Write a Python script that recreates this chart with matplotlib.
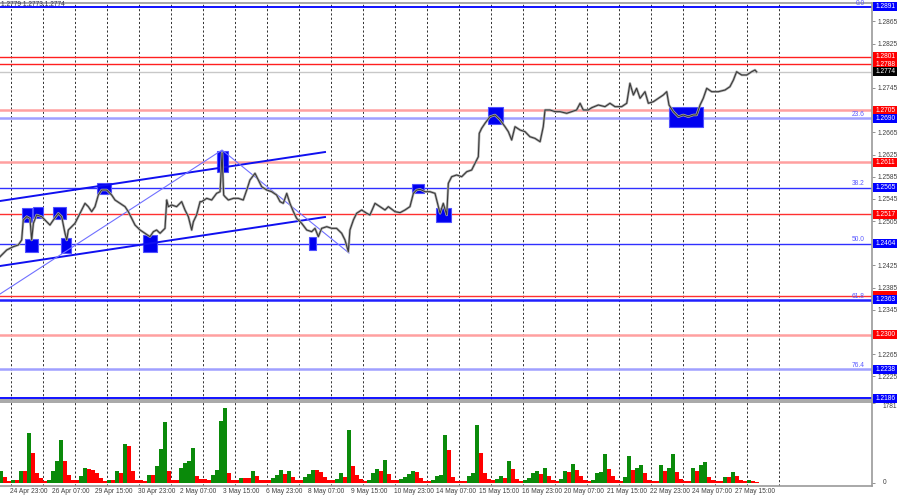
import matplotlib
matplotlib.use('Agg')
import matplotlib.pyplot as plt
from matplotlib.patches import Rectangle
from matplotlib.transforms import blended_transform_factory as blend

plt.rcParams['font.family'] = ['Liberation Sans', 'DejaVu Sans']

# ---------------- data ----------------
# time axis in trading hours, 0 = 25 Apr 00:00
price_hours = [
    -8.25, -3.2, 1.7, 5.5, 8.0, 9.2, 11.8, 14.2, 15.5, 16.8,
    19.2, 23.0, 26.8, 29.2, 31.8, 35.5, 38.0, 40.5, 41.8, 43.0,
    45.5, 48.0, 50.5, 53.0, 55.5, 58.0, 60.5, 63.0, 65.5, 68.0,
    71.8, 75.5, 78.0, 81.8, 85.5, 88.0, 90.5, 93.0, 96.8, 100.5,
    104.2, 106.8, 109.2, 111.8, 115.5, 116.8, 118.0, 120.5, 124.2, 128.0,
    130.5, 133.0, 135.5, 136.8, 139.2, 141.8,
    143.0, 146.8, 150.5, 154.2, 156.8, 158.3, 159.5, 160.5, 163.0, 166.8,
    170.5, 174.2, 176.8, 179.2, 183.0, 185.5, 188.0, 191.8, 195.5, 199.2,
    201.8, 204.2, 206.8, 209.2, 211.8, 214.2, 218.0, 221.8, 225.5, 228.0,
    230.5, 233.0, 236.8, 240.5, 244.2, 248.0, 250.5, 253.0, 254.2, 256.8,
    259.2, 263.0, 266.8, 269.2, 273.0, 276.8, 280.5, 283.0,
    288.0, 291.8, 295.5, 299.2, 301.8, 304.2, 306.8, 310.5, 314.2, 318.0,
    321.8, 324.2, 326.8, 328.0, 330.5, 334.2, 338.0, 341.8, 345.5, 348.0,
    350.5, 351.2, 353.0, 355.5, 359.2, 363.0, 366.8, 370.5, 373.0, 375.5,
    378.0, 381.8, 385.5, 389.2, 393.0, 396.8, 399.2, 400.5, 404.2, 408.0,
    411.8, 416.8, 420.5, 424.2, 426.8, 429.2, 433.0,
    435.5, 440.5, 445.5, 449.2, 453.0, 458.0, 461.8, 464.2, 466.8, 469.2,
    471.8, 475.5, 478.0, 481.8, 485.5, 489.2, 491.8, 493.5, 496.8, 500.5,
    504.2, 508.0, 511.8, 514.2, 516.8, 519.2, 521.8, 525.5, 530.5, 535.5,
    539.2, 541.8, 544.2, 548.0, 551.8, 555.5, 558.0, 559.2,
]
price_close = [
    1.24408, 1.24529, 1.24588, 1.24619, 1.24709, 1.25070, 1.25130, 1.25100, 1.24709, 1.25010,
    1.25160, 1.25130, 1.25039, 1.24979, 1.25070, 1.25190, 1.25130, 1.24830, 1.24709, 1.24889,
    1.24949, 1.25010, 1.25130, 1.25250, 1.25370, 1.25310, 1.25220, 1.25310, 1.25520, 1.25610,
    1.25610, 1.25520, 1.25430, 1.25370, 1.25310, 1.25220, 1.25100, 1.24979, 1.24889, 1.24830,
    1.24769, 1.24859, 1.24889, 1.24830, 1.24919, 1.25430, 1.25310, 1.25340, 1.25310, 1.25400,
    1.25250, 1.25130, 1.24889, 1.25039, 1.25160, 1.25400,
    1.25400, 1.25460, 1.25430, 1.25550, 1.25580, 1.26280, 1.25520, 1.25490, 1.25430, 1.25460,
    1.25460, 1.25430, 1.25610, 1.25790, 1.25911, 1.25790, 1.25670, 1.25610, 1.25580, 1.25520,
    1.25400, 1.25370, 1.25550, 1.25370, 1.25220, 1.25100, 1.25010, 1.24889, 1.24859, 1.24919,
    1.24769, 1.24919, 1.24949, 1.24919, 1.24919, 1.24830, 1.24709, 1.24498, 1.24889, 1.25070,
    1.25190, 1.25250, 1.25190, 1.25160, 1.25370, 1.25310, 1.25250, 1.25310,
    1.25220, 1.25202, 1.25250, 1.25310, 1.25550, 1.25610, 1.25622, 1.25580, 1.25580, 1.25550,
    1.25190, 1.25370, 1.25160, 1.25731, 1.25850, 1.25881, 1.25850, 1.25940, 1.25971, 1.26091,
    1.26211, 1.26632, 1.26723, 1.26813, 1.26932, 1.26963, 1.26873, 1.26752, 1.26662, 1.26512,
    1.26752, 1.26692, 1.26662, 1.26571, 1.26541, 1.26481, 1.26752, 1.27053, 1.27053, 1.27023,
    1.27023, 1.26993, 1.27023, 1.27053, 1.27174, 1.27053, 1.27053,
    1.27094, 1.27143, 1.27113, 1.27174, 1.27113, 1.27113, 1.27174, 1.27534, 1.27323, 1.27444,
    1.27264, 1.27383, 1.27174, 1.27203, 1.27264, 1.27323, 1.27383, 1.27143, 1.27023, 1.26932,
    1.26963, 1.26932, 1.26963, 1.26963, 1.27143, 1.27264, 1.27444, 1.27383, 1.27383, 1.27413,
    1.27473, 1.27594, 1.27743, 1.27684, 1.27684, 1.27743, 1.27774, 1.27740,
]

# tick volume, one value per 3-hour block starting at hour -9
volume = [
    264, 132, 44, 66, 66, 264, 264, 1122, 660, 220,
    110, 44, 66, 264, 484, 968, 484, 176, 66, 66,
    154, 330, 308, 286, 220, 110, 44, 66, 66, 264,
    220, 880, 836, 264, 66, 66, 44, 176, 176, 374,
    748, 1364, 264, 66, 66, 330, 440, 484, 770, 154,
    88, 88, 66, 176, 286, 1386, 1672, 220, 66, 66,
    110, 110, 110, 264, 154, 66, 66, 66, 110, 176,
    286, 198, 264, 132, 66, 66, 132, 198, 286, 286,
    242, 132, 66, 66, 88, 220, 132, 1188, 374, 176,
    88, 44, 66, 220, 308, 264, 506, 198, 66, 66,
    88, 132, 198, 264, 242, 110, 44, 44, 66, 154,
    176, 1078, 726, 132, 44, 44, 44, 154, 220, 1298,
    660, 220, 88, 66, 88, 154, 110, 484, 308, 88,
    44, 66, 110, 220, 264, 198, 330, 154, 66, 44,
    88, 264, 242, 418, 286, 154, 66, 44, 66, 220,
    242, 638, 308, 154, 66, 44, 132, 594, 286, 330,
    396, 220, 66, 44, 44, 396, 264, 330, 638, 242,
    88, 44, 44, 330, 264, 396, 462, 132, 66, 44,
    44, 132, 132, 242, 154, 66, 44, 66, 44, 22,
]
volume_max_label = 1781

# horizontal levels
levels = [1.2891, 1.2801, 1.2788, 1.2774, 1.2705, 1.2690, 1.2611, 1.2565,
          1.2517, 1.2464, 1.2370, 1.2363, 1.2300, 1.2238, 1.2186]
covered_labels = [1.2370]   # label box mostly hidden behind the next one
fib_levels = [1.2891, 1.2690, 1.2565, 1.2464, 1.2363, 1.2238]
fib_names = ['0.0', '23.6', '38.2', '50.0', '61.8', '76.4']

# trend lines (hour, price)
upper_channel = ([-8.25, 235.5], [1.25412, 1.26295])
lower_channel = ([-8.25, 235.5], [1.24240, 1.25123])
zigzag = ([-8.25, 158.25, 253.5], [1.23735, 1.26331, 1.24474])

# marked zones: hour start, hour end, price low, price high
zone_h0 = [8.25, 16.5, 31.5, 10.5, 37.5, 64.5, 99.0, 154.5, 223.5, 300.75, 318.75, 357.75, 493.5]
zone_h1 = [15.75, 24.0, 41.25, 20.25, 45.0, 75.0, 109.5, 162.75, 228.75, 309.75, 330.0, 369.0, 519.0]
zone_lo = [1.25033, 1.25106, 1.25088, 1.24492, 1.24474, 1.25538, 1.24492, 1.25935, 1.24529, 1.25556, 1.25033, 1.26800, 1.26746]
zone_hi = [1.25286, 1.25304, 1.25304, 1.24727, 1.24745, 1.25737, 1.24799, 1.26313, 1.24763, 1.25719, 1.25286, 1.27107, 1.27107]

date_labels = ['24 Apr 23:00', '26 Apr 07:00', '29 Apr 15:00', '30 Apr 23:00', '2 May 07:00',
               '3 May 15:00', '6 May 23:00', '8 May 07:00', '9 May 15:00', '10 May 23:00',
               '14 May 07:00', '15 May 15:00', '16 May 23:00', '20 May 07:00', '21 May 15:00',
               '22 May 23:00', '24 May 07:00', '27 May 15:00']
header_text = '1.2779 1.2773 1.2774'

# ---------------- styles ----------------
level_line_colors = ['#0000ff', '#ff2020', '#ff2020', '#c8c8c8', '#ffa0a0', '#a0a0ff', '#ffa0a0', '#3030ff',
                     '#ff3030', '#3030ff', '#ff3030', '#2020ff', '#ffa0a0', '#a0a0ff', '#0000ff']
level_line_widths = [1.3, 1.0, 1.0, 1.0, 1.8, 1.8, 1.8, 1.0, 1.0, 1.0, 1.0, 1.8, 1.8, 1.8, 1.3]
level_box_colors = ['#0000ff', '#ff0000', '#ff0000', '#000000', '#ff0000', '#0000ff', '#ff0000', '#0000ff',
                    '#ff0000', '#0000ff', '#ff0000', '#0000ff', '#ff0000', '#0000ff', '#0000ff']
FS = 4.8
TXT = '#404040'

W, H = 900, 500
fig = plt.figure(figsize=(9, 5), dpi=100)
fig.patch.set_facecolor('white')

ax = fig.add_axes([0, 1 - 400 / H, 872 / W, 397 / H])
axv = fig.add_axes([0, 1 - 486 / H, 872 / W, 84 / H])

for a in (ax, axv):
    a.set_facecolor('white')
    a.set_xlim(-8.25, 645.75)
    a.spines['left'].set_visible(False)
    for s in ('top', 'right', 'bottom'):
        a.spines[s].set_color('#9a9a9a')
        a.spines[s].set_linewidth(1.2)
    a.set_xticks([])
    a.yaxis.tick_right()
    a.tick_params(axis='y', length=2, width=0.6, colors='#808080', labelcolor=TXT,
                  labelsize=FS, pad=2)
    for g in range(0, 577, 24):
        a.axvline(g, color='#303030', lw=0.7, ls=(0, (2.2, 2.2)), zorder=1)

ax.set_ylim(1.21824, 1.28982)
# right axis ticks, hidden where a level label sits
ticks = []
t = 1.2225
while t < 1.289:
    if min(abs(t - l) for l in levels) > 0.0008:
        ticks.append(round(t, 4))
    t += 0.004
ax.set_yticks(ticks)
ax.set_yticklabels([f'{v:.4f}' for v in ticks])

ty = blend(ax.transAxes, ax.transData)
box_w = 24 / 872
box_h = 9 / 5546
for lv, lc, lw, bc in zip(levels, level_line_colors, level_line_widths, level_box_colors):
    ax.axhline(lv, color=lc, lw=lw, zorder=2)
    ax.add_patch(Rectangle((1.0015, lv - box_h / 2), box_w, box_h, transform=ty, fc=bc,
                           ec='none', clip_on=False, zorder=10))
    if lv not in covered_labels:
        ax.text(1.0015 + box_w / 2, lv, f'{lv:.4f}', transform=ty, ha='center', va='center',
                fontsize=FS, color='white', clip_on=False, zorder=11)
for lv, nm in zip(fib_levels, fib_names):
    ax.text(865 / 872, lv + 0.00006, nm, transform=ty, ha='right', va='bottom', fontsize=FS,
            color='#5a5aff', zorder=3)

# zones
for h0, h1, lo, hi in zip(zone_h0, zone_h1, zone_lo, zone_hi):
    ax.add_patch(Rectangle((h0, lo), h1 - h0, hi - lo, fc='#0000f0', ec='#5050ff', lw=0.8, zorder=4))

# trend lines
ax.plot(*upper_channel, color='#1010f0', lw=1.4, zorder=5)
ax.plot(*lower_channel, color='#1010f0', lw=1.4, zorder=5)
ax.plot(*zigzag, color='#7070ff', lw=0.8, zorder=5)

# price
ax.plot(price_hours, price_close, color='#b0b0b0', lw=1.8, zorder=6)
ax.plot(price_hours, price_close, color='#3a3a3a', lw=0.8, zorder=7)

fig.text(1 / W, 1 - 5 / H, header_text, fontsize=FS, color='#303050', va='center', ha='left')

# volume
axv.set_ylim(-67, 1806)
vol_x = [-7.5 + 3 * i for i in range(len(volume))]
vol_col = ['#0a8a0a' if i == 0 or volume[i] > volume[i - 1] else '#ff0000' for i in range(len(volume))]
axv.bar(vol_x, volume, width=2.6, color=vol_col, zorder=3, linewidth=0)
axv.set_yticks([0, volume_max_label])
axv.set_yticklabels([])
tvy = blend(axv.transAxes, axv.transData)
axv.text(1.012, volume_max_label, str(volume_max_label), transform=tvy, ha='left', va='top',
         fontsize=FS, color=TXT, clip_on=False)
axv.text(1.012, 0, '0', transform=tvy, ha='left', va='center', fontsize=FS, color=TXT, clip_on=False)

tx = blend(axv.transData, axv.transAxes)
for k, lab in enumerate(date_labels):
    axv.text(32 * k - 1, -0.07, lab, transform=tx, ha='left', va='center', fontsize=FS,
             color=TXT, clip_on=False)

fig.savefig('out.png', dpi=100, facecolor='white')
